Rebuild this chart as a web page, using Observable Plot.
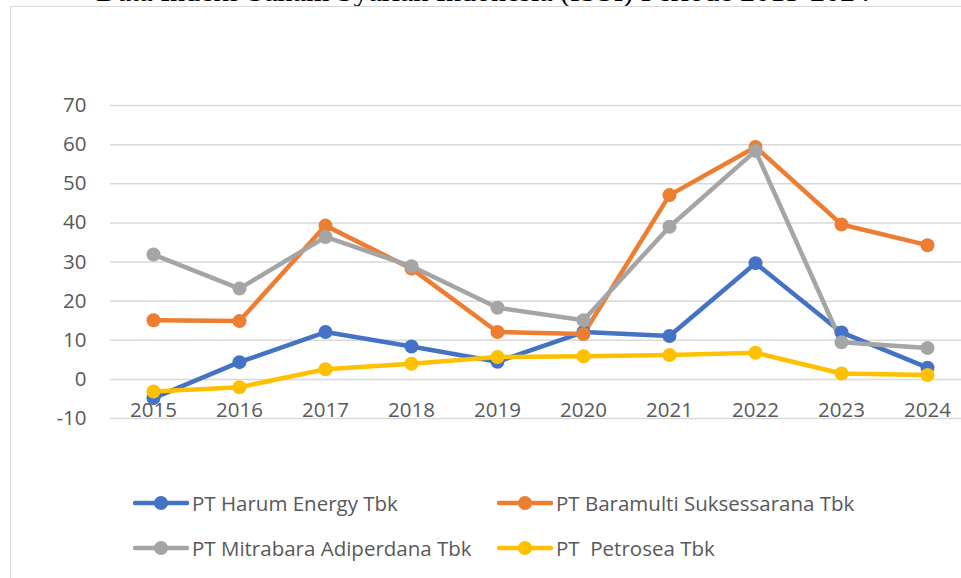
<!DOCTYPE html>
<html>
<head>
<meta charset="utf-8">
<script src="https://cdn.jsdelivr.net/npm/d3@7"></script>
<script src="https://cdn.jsdelivr.net/npm/@observablehq/plot@0.6"></script>
<style>
  html, body { margin: 0; padding: 0; background: #fff; overflow: hidden; }
  #page { position: relative; width: 961px; height: 578px; overflow: hidden; }
  #title { position: absolute; left: 0; width: 966px; top: -22px; text-align: center;
    font-family: "Liberation Serif", "Times New Roman", serif; font-size: 30px; line-height: 26px;
    color: #000; white-space: nowrap; }
  #frame { position: absolute; left: 10px; top: 6px; width: 1000px; height: 620px;
    border: 1.5px solid #d9d9d9; box-sizing: border-box; background: transparent; }
  #chart { position: absolute; left: 0; top: 0; }
  .leg { position: absolute; display: flex; align-items: center; height: 24px;
    font-family: "Open Sans", Lato, sans-serif; font-size: 20.5px; color: #595959; white-space: pre; }
  .leg svg { display: block; margin-right: 3px; }
</style>
</head>
<body>
<div id="page">
  <div id="title">Data Indeks Saham Syariah Indonesia (ISSI) Periode 2015-2024</div>
  <div id="frame"></div>
  <div id="chart"></div>
  <div id="legend"></div>
</div>
<script>
const years = ["2015","2016","2017","2018","2019","2020","2021","2022","2023","2024"];
const seriesNames = ["PT Harum Energy Tbk", "PT Baramulti Suksessarana Tbk", "PT Mitrabara Adiperdana Tbk", "PT  Petrosea Tbk"];
const seriesColors = ["#4472C4", "#ED7D31", "#A5A5A5", "#FFC000"];
const harum = [-4.8, 4.4, 12.1, 8.4, 4.5, 12.1, 11.1, 29.7, 12.0, 3.0];
const baramulti = [15.1, 14.9, 39.3, 28.3, 12.1, 11.6, 47.1, 59.4, 39.6, 34.3];
const mitrabara = [31.9, 23.2, 36.4, 28.9, 18.3, 15.1, 39.0, 58.4, 9.5, 8.0];
const petrosea = [-3.1, -2.0, 2.6, 4.0, 5.7, 5.9, 6.2, 6.8, 1.5, 1.1];
const yTicks = [-10, 0, 10, 20, 30, 40, 50, 60, 70];

const allValues = [harum, baramulti, mitrabara, petrosea];
const rows = [];
seriesNames.forEach((name, i) => {
  years.forEach((yr, j) => rows.push({series: name, year: yr, value: allValues[i][j]}));
});

const chart = Plot.plot({
  width: 961,
  height: 440,
  marginLeft: 110,
  marginRight: 0,
  marginTop: 105,
  marginBottom: 22,
  x: {type: "point", domain: years, range: [153, 927], padding: 0, axis: null},
  y: {domain: [-10, 70], axis: null},
  color: {domain: seriesNames, range: seriesColors},
  style: {fontFamily: "'Open Sans', Lato, sans-serif", background: "transparent", overflow: "visible"},
  marks: [
    Plot.ruleY(yTicks, {stroke: "#d9d9d9", strokeWidth: 1.5}),
    Plot.axisY(yTicks, {anchor: "left", tickSize: 0, tickPadding: 24, fontSize: 20.5, fill: "#595959",
      tickFormat: d => String(d), label: null}),
    Plot.text(years, {x: d => d, y: d => 0, dy: 31, fontSize: 20.5, fill: "#595959", text: d => d}),
    Plot.line(rows, {x: "year", y: "value", z: "series", stroke: "series", strokeWidth: 4.5,
      strokeLinejoin: "round", strokeLinecap: "round"}),
    Plot.dot(rows, {x: "year", y: "value", fill: "series", r: 7, stroke: "none"})
  ]
});
document.getElementById("chart").appendChild(chart);

// legend
const legendPos = [
  {x: 133, y: 491}, {x: 497, y: 491},
  {x: 133, y: 536}, {x: 497, y: 536}
];
const legendOrder = [0, 1, 2, 3];
const legend = document.getElementById("legend");
legendOrder.forEach((i, k) => {
  const item = document.createElement("div");
  item.className = "leg";
  item.style.left = legendPos[k].x + "px";
  item.style.top = legendPos[k].y + "px";
  const c = seriesColors[i];
  item.innerHTML = `<svg width="56" height="24"><line x1="2" y1="12" x2="54" y2="12" stroke="${c}" stroke-width="4.5" stroke-linecap="round"/><circle cx="28" cy="12" r="7" fill="${c}"/></svg><span>${seriesNames[i]}</span>`;
  legend.appendChild(item);
});
</script>
</body>
</html>
